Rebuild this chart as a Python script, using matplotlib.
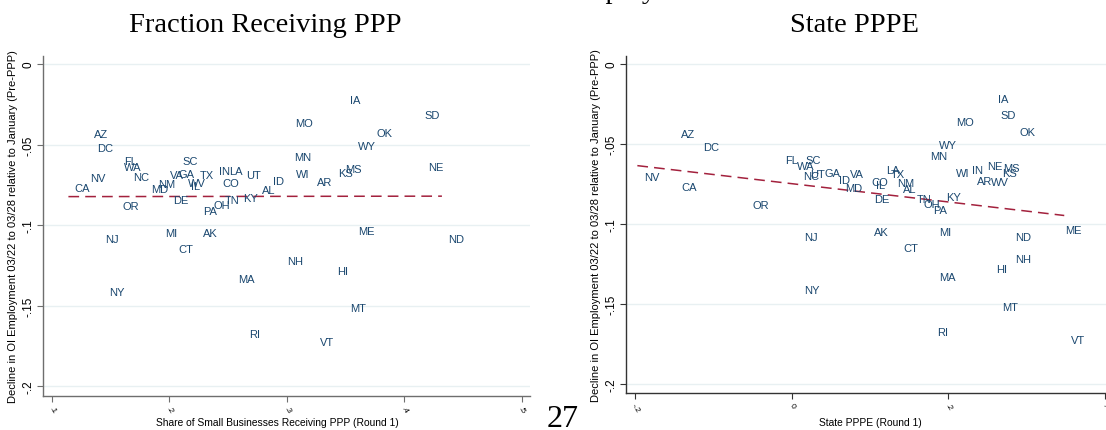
import numpy as np
import matplotlib
matplotlib.use('Agg')
import matplotlib.pyplot as plt

plt.rcParams['font.family'] = ['Liberation Sans', 'DejaVu Sans']

# State-level data: employment decline (shared outcome), PPP share and PPPE
states = ['IA', 'SD', 'MO', 'OK', 'AZ', 'DC', 'WY', 'MN', 'FL', 'SC',
          'WA', 'NV', 'CA', 'NC', 'UT', 'GA', 'ID', 'VA', 'MD', 'LA',
          'TX', 'CO', 'IL', 'NM', 'AL', 'DE', 'OR', 'TN', 'OH', 'PA',
          'KY', 'WI', 'IN', 'NE', 'MS', 'KS', 'AR', 'WV', 'ME', 'AK',
          'MI', 'NJ', 'ND', 'CT', 'NH', 'HI', 'MA', 'NY', 'MT', 'RI',
          'VT']
decline = [-0.0220, -0.0318, -0.0363, -0.0425, -0.0437, -0.0519, -0.0507, -0.0575, -0.0600, -0.0600,
           -0.0638, -0.0707, -0.0770, -0.0701, -0.0690, -0.0682, -0.0727, -0.0687, -0.0778, -0.0665,
           -0.0686, -0.0735, -0.0755, -0.0742, -0.0780, -0.0846, -0.0880, -0.0845, -0.0877, -0.0910,
           -0.0829, -0.0680, -0.0661, -0.0636, -0.0650, -0.0679, -0.0732, -0.0740, -0.1038, -0.1047,
           -0.1050, -0.1084, -0.1084, -0.1149, -0.1219, -0.1282, -0.1334, -0.1412, -0.1516, -0.1673,
           -0.1725]
share_ppp = [0.348, 0.412, 0.302, 0.371, 0.130, 0.133, 0.355, 0.301, 0.156, 0.206,
             0.156, 0.127, 0.114, 0.164, 0.260, 0.202, 0.283, 0.195, 0.179, 0.245,
             0.220, 0.240, 0.213, 0.185, 0.273, 0.198, 0.155, 0.242, 0.232, 0.223,
             0.257, 0.302, 0.237, 0.415, 0.344, 0.338, 0.320, 0.210, 0.355, 0.223,
             0.191, 0.140, 0.432, 0.202, 0.295, 0.337, 0.253, 0.143, 0.348, 0.262,
             0.323]
state_pppe = [0.255, 0.258, 0.202, 0.283, -0.149, -0.121, 0.180, 0.169, -0.016, 0.010,
              -0.002, -0.197, -0.149, 0.007, 0.016, 0.034, 0.052, 0.066, 0.060, 0.112,
              0.118, 0.094, 0.100, 0.126, 0.134, 0.097, -0.058, 0.151, 0.160, 0.172,
              0.189, 0.201, 0.222, 0.242, 0.262, 0.261, 0.229, 0.246, 0.341, 0.097,
              0.180, 0.008, 0.277, 0.134, 0.277, 0.253, 0.180, 0.008, 0.260, 0.178,
              0.348]

yticks = [0, -0.05, -0.1, -0.15, -0.2]
ytick_labels = ['0', '-.05', '-.1', '-.15', '-.2']
share_ticks = [0.1, 0.2, 0.3, 0.4, 0.5]
share_tick_labels = ['.1', '.2', '.3', '.4', '.5']
pppe_ticks = [-0.2, 0, 0.2, 0.4]
pppe_tick_labels = ['-.2', '0', '.2', '.4']

ylab = 'Decline in OI Employment 03/22 to 03/28 relative to January (Pre-PPP)'

LABEL_COLOR = '#1a476f'
FIT_COLOR = '#a3213d'
GRID_COLOR = '#e8f0f2'
SERIF = ['Liberation Serif', 'DejaVu Serif']

W, H = 1106, 431


def draw_panel(ax, x, xlabel, xticks, xticklabels, xlim, ylim, spine_color):
    # markers are invisible, the state codes carry the points
    ax.scatter(x, decline, s=0)
    for st, xi, yi in zip(states, x, decline):
        ax.annotate(st, (xi, yi), xytext=(4.6, 0), textcoords='offset points',
                    ha='left', va='center', fontsize=8, color=LABEL_COLOR)

    # linear fit over the range of the data
    slope, intercept = np.polyfit(x, decline, 1)
    xs = np.array([min(x), max(x)])
    ax.plot(xs, intercept + slope * xs, ls=(0, (7, 4)), color=FIT_COLOR, lw=1.1)

    ax.set_xlim(*xlim)
    ax.set_ylim(*ylim)
    ax.set_yticks(yticks)
    ax.set_yticklabels(ytick_labels, rotation=90, va='center')
    ax.set_xticks(xticks)
    ax.set_xticklabels(xticklabels, rotation=-60, ha='center', fontsize=6)
    ax.yaxis.grid(True, color=GRID_COLOR, lw=1.0)
    ax.set_axisbelow(True)

    for side in ['top', 'right']:
        ax.spines[side].set_visible(False)
    for side in ['left', 'bottom']:
        ax.spines[side].set_color(spine_color)
        ax.spines[side].set_linewidth(1.0)
    ax.tick_params(direction='out', length=4, width=0.8, color=spine_color)
    ax.tick_params(axis='y', labelsize=8.5, pad=2)
    ax.tick_params(axis='x', pad=2)

    ax.set_ylabel(ylab, fontsize=8.0, va='center')
    ax.set_xlabel(xlabel, fontsize=7.4, va='center')


fig = plt.figure(figsize=(W / 100, H / 100), dpi=100)

# left panel: share of small businesses receiving PPP
ax1 = fig.add_axes([42.7 / W, 1 - 396.7 / H, 487.3 / W, 340 / H])
draw_panel(ax1, share_ppp, 'Share of Small Businesses Receiving PPP (Round 1)',
           share_ticks, share_tick_labels, (0.0921, 0.507), (-0.2058, 0.0052), '#6e6e6e')
ax1.yaxis.set_label_coords(-30 / 487.3, 0.5)
ax1.xaxis.set_label_coords(0.4815, -26 / 340)

# right panel: state PPPE
ax2 = fig.add_axes([626 / W, 1 - 394 / H, 480 / W, 337 / H])
draw_panel(ax2, state_pppe, 'State PPPE (Round 1)',
           pppe_ticks, pppe_tick_labels, (-0.2115, 0.4013), (-0.2056, 0.005), '#333333')
ax2.yaxis.set_label_coords(-30 / 480, 0.5)
ax2.xaxis.set_label_coords(0.51, -29 / 337)

# panel titles, page number and the bottom of the line of text above
fig.text(265 / W, 1 - 32 / H, 'Fraction Receiving PPP', family=SERIF,
         fontsize=20.5, ha='center', va='baseline')
fig.text(854 / W, 1 - 32 / H, 'State PPPE', family=SERIF,
         fontsize=20.5, ha='center', va='baseline')
fig.text(563 / W, 1 - 427 / H, '27', family=SERIF,
         fontsize=23, ha='center', va='baseline')
fig.text(566 / W, 1 + 2 / H, 'Employment', family=SERIF,
         fontsize=20.5, ha='left', va='baseline')

fig.savefig('out.png', dpi=100)
